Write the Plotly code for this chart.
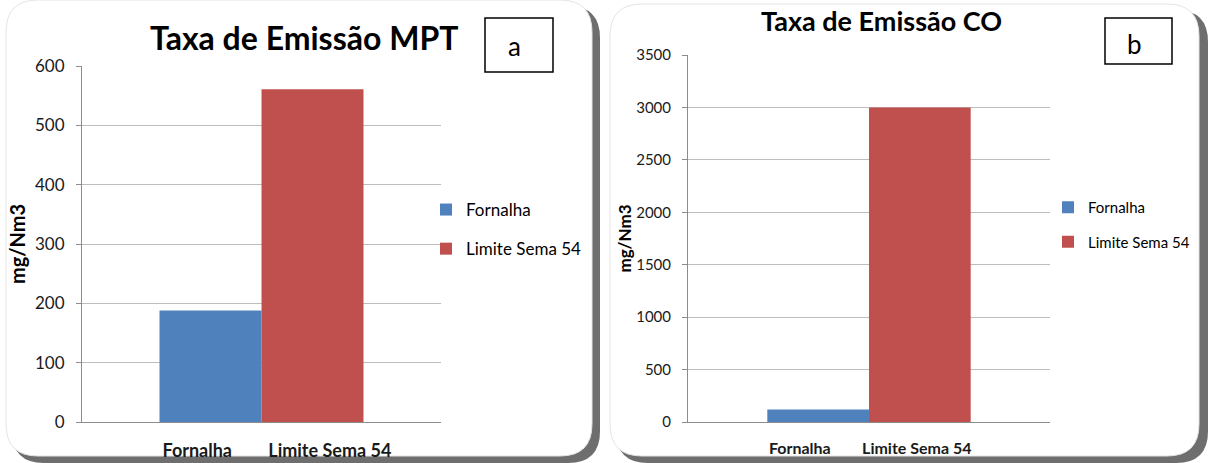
import plotly.graph_objects as go

categories = ["Fornalha", "Limite Sema 54"]
mpt_values = [188, 561]
co_values = [120, 3000]
mpt_ticks = [0, 100, 200, 300, 400, 500, 600]
co_ticks = [0, 500, 1000, 1500, 2000, 2500, 3000, 3500]
colors = ["#4F81BD", "#C0504D"]

# label placement offsets (in category units) for x tick labels, as in the original
label_shift_a = [-0.13, 0.17]
label_shift_b = [-0.18, -0.03]

W, H = 1208, 463
FONT = "Lato"

def px(x):
    return x / W

def py(y):
    return 1 - y / H

def rounded(x0, y0, x1, y1, r):
    rx, ry = r / W, r / H
    X0, X1 = px(x0), px(x1)
    Y0, Y1 = py(y0), py(y1)
    return (f"M {X0+rx},{Y0} L {X1-rx},{Y0} Q {X1},{Y0} {X1},{Y0-ry} "
            f"L {X1},{Y1+ry} Q {X1},{Y1} {X1-rx},{Y1} L {X0+rx},{Y1} "
            f"Q {X0},{Y1} {X0},{Y1+ry} L {X0},{Y0-ry} Q {X0},{Y0} {X0+rx},{Y0} Z")

idx = list(range(len(categories)))

fig = go.Figure()
for i, (cat, val) in enumerate(zip(categories, mpt_values)):
    fig.add_trace(go.Bar(x=[idx[i]], y=[val], name=cat, marker_color=colors[i],
                         marker_line_width=0, width=1.0, xaxis="x", yaxis="y",
                         legend="legend", legendgroup=f"a{i}"))
for i, (cat, val) in enumerate(zip(categories, co_values)):
    fig.add_trace(go.Bar(x=[idx[i]], y=[val], name=cat, marker_color=colors[i],
                         marker_line_width=0, width=1.0, xaxis="x2", yaxis="y2",
                         legend="legend2", legendgroup=f"b{i}"))

shapes = []
shapes.append(dict(type="path", xref="paper", yref="paper",
                   path=rounded(12, 6, 600, 463, 32), fillcolor="#6e6e6e", line_width=0, layer="below"))
shapes.append(dict(type="path", xref="paper", yref="paper",
                   path=rounded(616, 10, 1208, 463, 32), fillcolor="#6e6e6e", line_width=0, layer="below"))
shapes.append(dict(type="path", xref="paper", yref="paper",
                   path=rounded(6, 0, 592, 456, 32), fillcolor="white", line=dict(color="#e4e4e4", width=1), layer="below"))
shapes.append(dict(type="path", xref="paper", yref="paper",
                   path=rounded(610, 4, 1199, 456, 32), fillcolor="white", line=dict(color="#e4e4e4", width=1), layer="below"))
shapes.append(dict(type="rect", xref="paper", yref="paper",
                   x0=px(485), x1=px(553), y0=py(72), y1=py(18), line=dict(color="black", width=1.5)))
shapes.append(dict(type="rect", xref="paper", yref="paper",
                   x0=px(1105), x1=px(1172), y0=py(64), y1=py(18), line=dict(color="black", width=1.5)))

def ann(text, x, y, size):
    return dict(text=text, x=px(x), y=py(y), xref="paper", yref="paper",
                xanchor="center", yanchor="middle", showarrow=False,
                font=dict(family=FONT, size=size, color="black"))

annotations = [
    ann("<b>Taxa de Emissão MPT</b>", 304, 37, 32),
    ann("<b>Taxa de Emissão CO</b>", 881, 20, 27),
    ann("a", 514, 46, 26),
    ann("b", 1134, 44, 26),
]

axis_common = dict(showline=True, linecolor="#8c8c8c", linewidth=1, ticks="outside",
                   ticklen=5, tickcolor="#8c8c8c", gridcolor="#bdbdbd", gridwidth=1,
                   zeroline=False, automargin=False, ticklabelstandoff=8)

fig.update_layout(
    width=W, height=H, margin=dict(l=0, r=0, t=0, b=0),
    paper_bgcolor="white", plot_bgcolor="rgba(0,0,0,0)",
    barmode="overlay", showlegend=True,
    shapes=shapes, annotations=annotations,
    xaxis=dict(domain=[px(82), px(441)], anchor="y", range=[-1.26, 2.26],
               tickvals=[i + s for i, s in zip(idx, label_shift_a)], ticktext=categories,
               showline=True, linecolor="#8c8c8c", ticks="outside", ticklen=12,
               tickcolor="rgba(0,0,0,0)", showgrid=False, zeroline=False, automargin=False,
               tickfont=dict(family=FONT, size=18, color="#1a1a1a", weight="bold")),
    yaxis=dict(domain=[py(422), py(66)], anchor="x", range=[0, 600], tickvals=mpt_ticks,
               title=dict(text="<b>mg/Nm3</b>", font=dict(family=FONT, size=20, color="black"), standoff=4),
               tickfont=dict(family=FONT, size=17, color="#1a1a1a"),
               **axis_common),
    xaxis2=dict(domain=[px(688), px(1050)], anchor="y2", range=[-1.28, 2.28],
                tickvals=[i + s for i, s in zip(idx, label_shift_b)], ticktext=categories,
                showline=True, linecolor="#8c8c8c", ticks="outside", ticklen=12,
                tickcolor="rgba(0,0,0,0)", showgrid=False, zeroline=False, automargin=False,
                tickfont=dict(family=FONT, size=16, color="#1a1a1a", weight="bold")),
    yaxis2=dict(domain=[py(422), py(55)], anchor="x2", range=[0, 3500], tickvals=co_ticks,
                title=dict(text="<b>mg/Nm3</b>", font=dict(family=FONT, size=17, color="black"), standoff=0),
                tickfont=dict(family=FONT, size=15, color="#1a1a1a"),
                **axis_common),
    legend=dict(x=px(426), y=py(192), xanchor="left", yanchor="top", bgcolor="rgba(0,0,0,0)",
                font=dict(family=FONT, size=17, color="black"), tracegroupgap=14, itemwidth=30),
    legend2=dict(x=px(1048), y=py(191), xanchor="left", yanchor="top", bgcolor="rgba(0,0,0,0)",
                 font=dict(family=FONT, size=15, color="black"), tracegroupgap=12, itemwidth=30),
)

fig.write_html("out.html", config={"displayModeBar": False},
               post_script="document.body.style.margin='0';")
